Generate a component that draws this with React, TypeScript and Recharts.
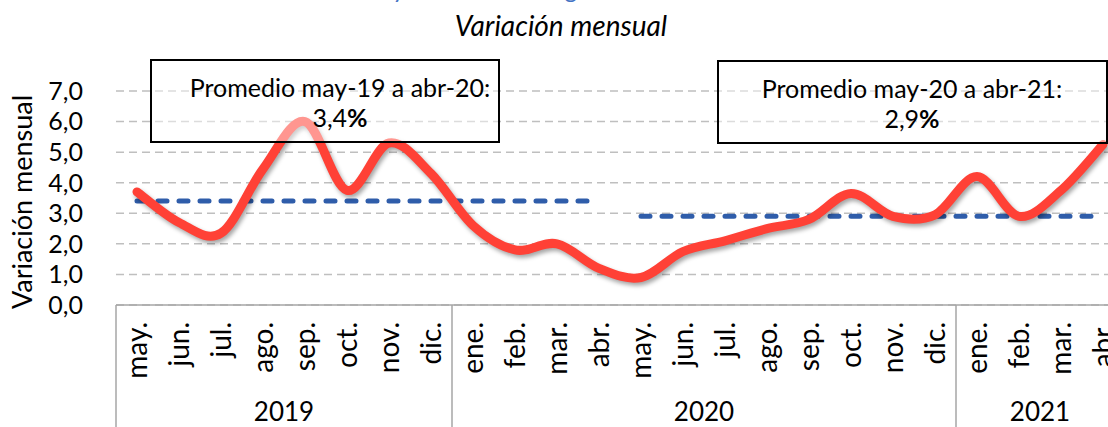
import React from 'react';
import { LineChart, Line, XAxis, YAxis, CartesianGrid } from 'recharts';

// ---------- data ----------
const months = [
  'may.', 'jun.', 'jul.', 'ago.', 'sep.', 'oct.', 'nov.', 'dic.',
  'ene.', 'feb.', 'mar.', 'abr.', 'may.', 'jun.', 'jul.', 'ago.', 'sep.', 'oct.', 'nov.', 'dic.',
  'ene.', 'feb.', 'mar.', 'abr.',
];
const monthYears = [
  '2019', '2019', '2019', '2019', '2019', '2019', '2019', '2019',
  '2020', '2020', '2020', '2020', '2020', '2020', '2020', '2020', '2020', '2020', '2020', '2020',
  '2021', '2021', '2021', '2021',
];
const monthlyVariation = [
  3.7, 2.7, 2.35, 4.45, 6.0, 3.75, 5.3, 4.3,
  2.6, 1.8, 2.0, 1.2, 0.9, 1.75, 2.1, 2.5, 2.8, 3.65, 2.9, 2.95,
  4.2, 2.9, 3.75, 5.25,
];
// averages per 12-month period
const periodStart = [0, 12];
const periodEnd = [11, 23];
const periodAverage = [3.4, 2.9];
const periodLabel = ['Promedio may-19 a abr-20:', 'Promedio may-20 a abr-21:'];
const periodAverageText = ['3,4', '2,9'];
const yTicks = [0, 1, 2, 3, 4, 5, 6, 7];

const titleText = 'Gráfico 1: Trayectoria del IPC general';
const subtitleText = 'Variación mensual';
const yAxisTitle = 'Variación mensual';

const tableData = months.map((m, i) => {
  const row: any = { key: `${m}-${monthYears[i]}-${i}`, value: monthlyVariation[i] };
  periodAverage.forEach((avg, p) => {
    row[`avg${p}`] = i >= periodStart[p] && i <= periodEnd[p] ? avg : null;
  });
  return row;
});

// ---------- layout ----------
const CHART_W = 1140;
const CHART_H = 440;
const MARGIN = { top: 91, right: 16, bottom: 0, left: 0 };
const Y_AXIS_W = 116;
const X_AXIS_H = 135;
const PLOT_W = CHART_W - MARGIN.left - MARGIN.right - Y_AXIS_W;
const STEP = PLOT_W / months.length;
const FONT = 'Lato, "Open Sans", "Noto Sans", sans-serif';

// Excel-like smoothed curve (Catmull-Rom / cardinal, tension 0)
function smoothCurve(context: any) {
  let pts: number[][] = [];
  return {
    areaStart() {},
    areaEnd() {},
    lineStart() {
      pts = [];
    },
    point(x: number, y: number) {
      pts.push([+x, +y]);
    },
    lineEnd() {
      const n = pts.length;
      if (!n) return;
      context.moveTo(pts[0][0], pts[0][1]);
      for (let i = 0; i < n - 1; i++) {
        const p0 = pts[i - 1] || pts[i];
        const p1 = pts[i];
        const p2 = pts[i + 1];
        const p3 = pts[i + 2] || p2;
        context.bezierCurveTo(
          p1[0] + (p2[0] - p0[0]) / 6,
          p1[1] + (p2[1] - p0[1]) / 6,
          p2[0] - (p3[0] - p1[0]) / 6,
          p2[1] - (p3[1] - p1[1]) / 6,
          p2[0],
          p2[1]
        );
      }
    },
  };
}

function MonthTick(props: any) {
  const { x, y, payload } = props;
  const i = payload && payload.index != null ? payload.index : props.index;
  const year = monthYears[i];
  const start = monthYears.indexOf(year);
  const end = monthYears.lastIndexOf(year);
  const mid = (start + end) / 2;
  const showYear = i === Math.round(mid);
  return (
    <g>
      <text
        transform={`translate(${x},${y + 17}) rotate(-90)`}
        textAnchor="end"
        dy="0.35em"
        fontSize={28}
        fontFamily={FONT}
        fill="#000"
      >
        {months[i]}
      </text>
      {i === start && (
        <line x1={x - STEP / 2} x2={x - STEP / 2} y1={y} y2={y + 140} stroke="#A6A6A6" strokeWidth={1.5} />
      )}
      {showYear && (
        <text x={x + (mid - i) * STEP} y={y + 116} textAnchor="middle" fontSize={26} fontFamily={FONT} fill="#000">
          {year}
        </text>
      )}
    </g>
  );
}

const boxes = [
  { x: 151, y: 60, w: 348, h: 82, cx: 340 },
  { x: 718, y: 61, w: 389, h: 82, cx: 912 },
];

export default function App() {
  return (
    <div
      style={{
        position: 'fixed',
        left: 0,
        top: 0,
        width: 1108,
        height: 427,
        overflow: 'hidden',
        background: '#fff',
      }}
    >
      <style>{`
        .red-line .recharts-line-curve { filter: drop-shadow(2px 3px 2px rgba(0,0,0,0.35)); stroke-linecap: round; }
        .avg-line .recharts-line-curve { stroke-linecap: round; }
      `}</style>
      <LineChart width={CHART_W} height={CHART_H} data={tableData} margin={MARGIN}>
        <CartesianGrid vertical={false} stroke="#BFBFBF" strokeDasharray="8 5" strokeWidth={1.5} />
        <XAxis
          dataKey="key"
          interval={0}
          tickLine={false}
          tickSize={0}
          tickMargin={0}
          height={X_AXIS_H}
          padding={{ left: STEP / 2, right: STEP / 2 }}
          axisLine={{ stroke: '#A6A6A6', strokeWidth: 1.5 }}
          tick={<MonthTick />}
        />
        <YAxis
          width={Y_AXIS_W}
          domain={[0, 7]}
          ticks={yTicks}
          interval={0}
          axisLine={false}
          tickLine={false}
          tickSize={0}
          tickMargin={33}
          tickFormatter={(v: number) => v.toFixed(1).replace('.', ',')}
          tick={{ fontSize: 25, fontFamily: FONT, fill: '#000' }}
        />
        {periodAverage.map((_, p) => (
          <Line
            key={p}
            className="avg-line"
            dataKey={`avg${p}`}
            type="linear"
            stroke="#2F5DAA"
            strokeWidth={5}
            strokeDasharray="9 12"
            strokeLinecap="round"
            dot={false}
            activeDot={false}
            connectNulls={false}
            isAnimationActive={false}
          />
        ))}
        <Line
          className="red-line"
          dataKey="value"
          type={smoothCurve as any}
          stroke="#FF4136"
          strokeWidth={9}
          strokeLinecap="round"
          dot={false}
          activeDot={false}
          isAnimationActive={false}
        />
      </LineChart>
      <svg
        width={1108}
        height={427}
        style={{ position: 'absolute', left: 0, top: 0, pointerEvents: 'none' }}
      >
        <text x={253} y={-2} fill="#4472C4" fontSize={24} fontFamily={FONT}>
          {titleText}
        </text>
        <text x={561} y={36} textAnchor="middle" fontSize={28} fontStyle="italic" fontFamily={FONT} fill="#000">
          {subtitleText}
        </text>
        <text
          transform="translate(32,202) rotate(-90)"
          textAnchor="middle"
          fontSize={27}
          fontFamily={FONT}
          fill="#000"
        >
          {yAxisTitle}
        </text>
        {boxes.map((b, p) => (
          <g key={p}>
            <rect x={b.x} y={b.y} width={b.w} height={b.h} fill="#fff" fillOpacity={0.45} stroke="#000" strokeWidth={2} />
            <text x={b.cx} y={b.y + 37} textAnchor="middle" fontSize={25} fontFamily={FONT} fill="#000">
              {periodLabel[p]}
            </text>
            <text x={b.cx} y={b.y + 67} textAnchor="middle" fontSize={25} fontFamily={FONT} fill="#000">
              {periodAverageText[p]}
              <tspan fontWeight="bold">%</tspan>
            </text>
          </g>
        ))}
      </svg>
    </div>
  );
}
